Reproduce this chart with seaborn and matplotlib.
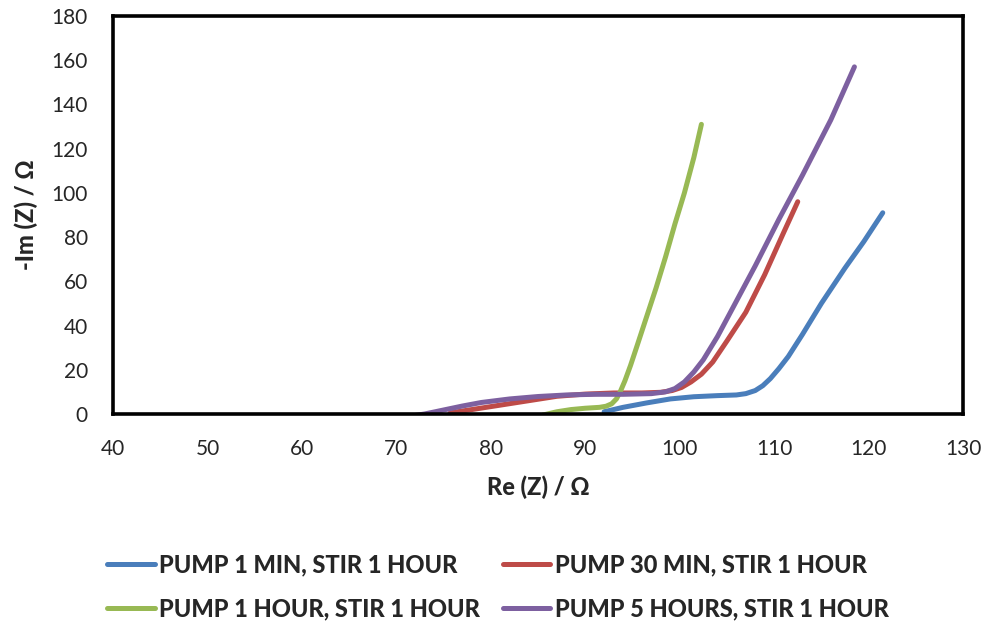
import numpy as np
import pandas as pd
import matplotlib
matplotlib.use("Agg")
import matplotlib.pyplot as plt
import seaborn as sns

# Nyquist data (Re(Z), -Im(Z)) in ohm
labels = ["PUMP 1 MIN, STIR 1 HOUR", "PUMP 30 MIN, STIR 1 HOUR",
          "PUMP 1 HOUR, STIR 1 HOUR", "PUMP 5 HOURS, STIR 1 HOUR"]
colors = ["#4A7EBB", "#BE4B48", "#98B954", "#7D60A0"]

re_1min = [92, 94, 96.5, 99, 101.5, 104, 106, 107, 108, 108.8, 109.6, 110.5, 111.5,
           113, 115, 117.5, 119.5, 121.5]
im_1min = [1, 3, 5, 6.8, 7.8, 8.3, 8.6, 9.2, 10.6, 12.8, 16, 20.5, 26,
           36, 50, 66, 78, 91]

re_30min = [75.7, 78, 81, 84, 87, 90, 93, 96, 98, 99.2, 100.2, 101.2, 102.3, 103.5,
            105, 107, 109, 111, 112.5]
im_30min = [0.5, 2, 4, 6, 8, 9, 9.5, 9.5, 9.8, 10.6, 12, 14.5, 18, 23.5,
            33, 46, 63, 82, 96]

re_1hour = [85.5, 87, 88.5, 90, 91.5, 92.2, 92.8, 93.3, 93.7, 94.2, 94.8, 95.5,
            96.5, 97.5, 98.5, 99.5, 100.5, 101.5, 102.3]
im_1hour = [-0.5, 1, 2, 2.6, 3, 3.5, 4.6, 6.8, 10, 15, 22, 31,
            44, 57, 71, 86, 100, 116, 131]

re_5hours = [71.5, 73, 75, 77, 79, 82, 85, 88, 91, 94, 97, 98.5, 99.5, 100.5, 101.5,
             102.5, 104, 106, 108, 110.5, 113, 116, 118.5]
im_5hours = [-1, 0, 1.8, 3.6, 5.2, 6.8, 7.9, 8.6, 8.9, 8.9, 9.2, 10, 11.5, 14.5, 19,
             24.5, 35, 51, 67, 88, 108, 133, 157]

frames = []
for lab, re, im in zip(labels, [re_1min, re_30min, re_1hour, re_5hours],
                       [im_1min, im_30min, im_1hour, im_5hours]):
    frames.append(pd.DataFrame({"re": re, "im": im, "sample": lab}))
df = pd.concat(frames, ignore_index=True)

sns.set_style("white")
plt.rcParams["font.family"] = ["Lato", "DejaVu Sans"]

fig = plt.figure(figsize=(9.86, 6.28), dpi=100)
ax = fig.add_axes([0.1146, 0.3408, 0.8621, 0.6337])

sns.lineplot(data=df, x="re", y="im", hue="sample", palette=colors,
             sort=False, estimator=None, linewidth=3.6, ax=ax,
             solid_capstyle="round", solid_joinstyle="round")

ax.set_xlim(40, 130)
ax.set_ylim(0, 180)
ax.set_xticks(np.arange(40, 131, 10))
ax.set_yticks(np.arange(0, 181, 20))
ax.tick_params(axis="both", length=0, pad=18, labelsize=15)

for sp in ax.spines.values():
    sp.set_visible(True)
    sp.set_color("black")
    sp.set_linewidth(2.6)

ax.set_xlabel("Re (Z) / Ω", fontsize=17, fontweight="black", labelpad=12)
ax.set_ylabel("-Im (Z) / Ω", fontsize=17, fontweight="black", labelpad=10)

handles, lbls = ax.get_legend_handles_labels()
ax.get_legend().remove()
# row-wise order: blue, red / green, purple
order = [0, 2, 1, 3]
leg = fig.legend([handles[i] for i in order], [lbls[i] for i in order],
                 loc="lower center", ncol=2,
                 bbox_to_anchor=(0.505, -0.022), frameon=False,
                 prop={"size": 17, "weight": "black"},
                 handlelength=2.0, handletextpad=0.2,
                 columnspacing=0.95, labelspacing=0.9)
for h in leg.get_lines():
    h.set_linewidth(3.6)

fig.savefig("out.png", dpi=100, facecolor="white")
